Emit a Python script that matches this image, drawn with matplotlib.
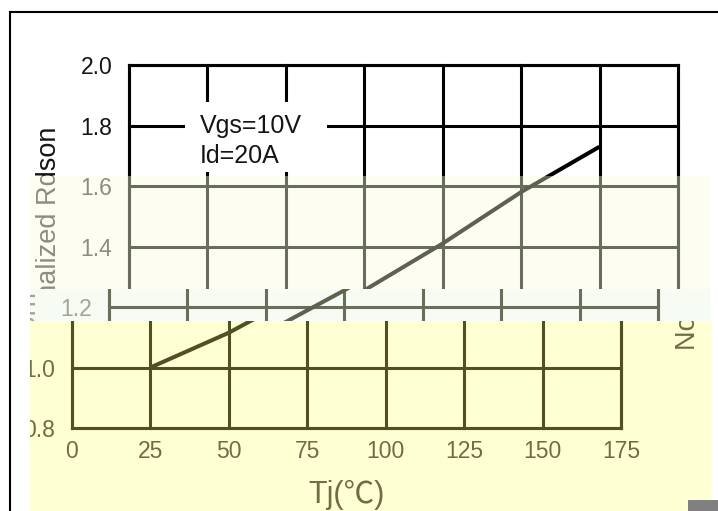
import matplotlib
matplotlib.use("Agg")
import matplotlib.pyplot as plt
from matplotlib.patches import Rectangle
from matplotlib.lines import Line2D

plt.rcParams['font.family'] = ['Liberation Sans', 'Noto Sans CJK SC', 'DejaVu Sans']

W, H = 718, 511

# normalized on-resistance vs junction temperature
tj = [25, 50, 75, 100, 125, 150]
rdson = [1.00, 1.115, 1.255, 1.41, 1.58, 1.73]

x_ticks = [0, 25, 50, 75, 100, 125, 150, 175]
x_tick_labels = ["0", "25", "50", "75", "100", "125", "150", "175"]
y_ticks = [0.8, 1.0, 1.2, 1.4, 1.6, 1.8, 2.0]
y_tick_labels = ["0.8", "1.0", "1.2", "1.4", "1.6", "1.8", "2.0"]
cond_lines = ["Vgs=10V", "Id=20A"]
x_label = "Tj(℃)"
y_label = "Normalized Rdson"

# horizontal strips in pixels (x0, y0, x1, y1 from top-left), each with its own
# horizontal offset of the plot and its own colours
bands = [
    dict(box=(0, 0, 718, 176), shift=0, bg=None, line="#000000",
         curve="#000000", text="#151515", wrap=False),
    dict(box=(30, 176, 710, 289), shift=0, bg="#FDFEF1", line="#6B6D5C",
         curve="#5E6050", text="#8C8D7E", wrap=False),
    dict(box=(30, 289, 710, 321), shift=-20, bg="#F6FBF3", line="#6B6D5C",
         curve="#5E6050", text="#A3A498", wrap=False),
    dict(box=(30, 321, 712, 511), shift=-57, bg="#FFFFD3", line="#4E5122",
         curve="#4E5122", text="#6E6E45", wrap=True),
]

AX_LEFT, AX_RIGHT, AX_TOP, AX_BOTTOM = 129, 678, 65, 428


def fig_rect(x0, y0, x1, y1):
    return (x0 / W, 1 - y1 / H, (x1 - x0) / W, (y1 - y0) / H)


fig = plt.figure(figsize=(W / 100, H / 100), dpi=100)
fig.patch.set_facecolor("white")

for b in bands:
    bx, by, bw, bh = fig_rect(*b["box"])
    clip = Rectangle((bx, by), bw, bh, transform=fig.transFigure)
    if b["bg"]:
        fig.add_artist(Rectangle((bx, by), bw, bh, facecolor=b["bg"], edgecolor="none",
                                 transform=fig.transFigure, zorder=-1))

    s = b["shift"]
    ax = fig.add_axes(fig_rect(AX_LEFT + s, AX_TOP, AX_RIGHT + s, AX_BOTTOM))
    ax.set_facecolor("none")
    ax.set_xlim(0, 175)
    ax.set_ylim(0.8, 2.0)
    ax.set_xticks(x_ticks, x_tick_labels)
    ax.set_yticks(y_ticks, y_tick_labels)
    ax.tick_params(length=0, labelsize=16.5, labelcolor=b["text"])
    ax.tick_params(axis="x", pad=9)
    ax.tick_params(axis="y", pad=12)
    ax.grid(True, color=b["line"], lw=2.2)
    for sp in ax.spines.values():
        sp.set_color(b["line"])
        sp.set_linewidth(2.2)

    ax.plot(tj, rdson, color=b["curve"], lw=2.9, solid_capstyle="butt", zorder=3)

    # blank area behind the test conditions
    ax.add_patch(Rectangle((17.9, 1.646), 45.2, 0.232, facecolor="white",
                           edgecolor="none", zorder=2))
    ax.text(22.6, 1.80, cond_lines[0], fontsize=18, color=b["text"],
            ha="left", va="center", zorder=4)
    ax.text(22.6, 1.70, cond_lines[1], fontsize=18, color=b["text"],
            ha="left", va="center", zorder=4)

    ax.text(-0.1458, 0.523, y_label, transform=ax.transAxes, rotation=90,
            ha="center", va="center", fontsize=19.5, color=b["text"])
    ax.text(0.5, -0.1846, x_label, transform=ax.transAxes, ha="center",
            va="center", fontsize=22, color=b["text"])
    if b["wrap"]:
        ax.text(1.1224, 0.523, y_label, transform=ax.transAxes, rotation=90,
                ha="center", va="center", fontsize=19.5, color=b["text"])

    for art in ax.findobj():
        if art is ax:
            continue
        art.set_clip_path(clip)
        art.set_clip_on(True)

# outer frame (left and top edges)
fig.add_artist(Line2D([10 / W, 10 / W], [0, 1 - 12 / H], color="black", lw=1.5,
                      transform=fig.transFigure, zorder=5))
fig.add_artist(Line2D([10 / W, 1], [1 - 12 / H, 1 - 12 / H], color="black", lw=1.5,
                      transform=fig.transFigure, zorder=5))

gx, gy, gw, gh = fig_rect(688, 500, 718, 511)
fig.add_artist(Rectangle((gx, gy), gw, gh, facecolor="#808080", edgecolor="none",
                         transform=fig.transFigure, zorder=5))

fig.savefig("out.png", dpi=100)
